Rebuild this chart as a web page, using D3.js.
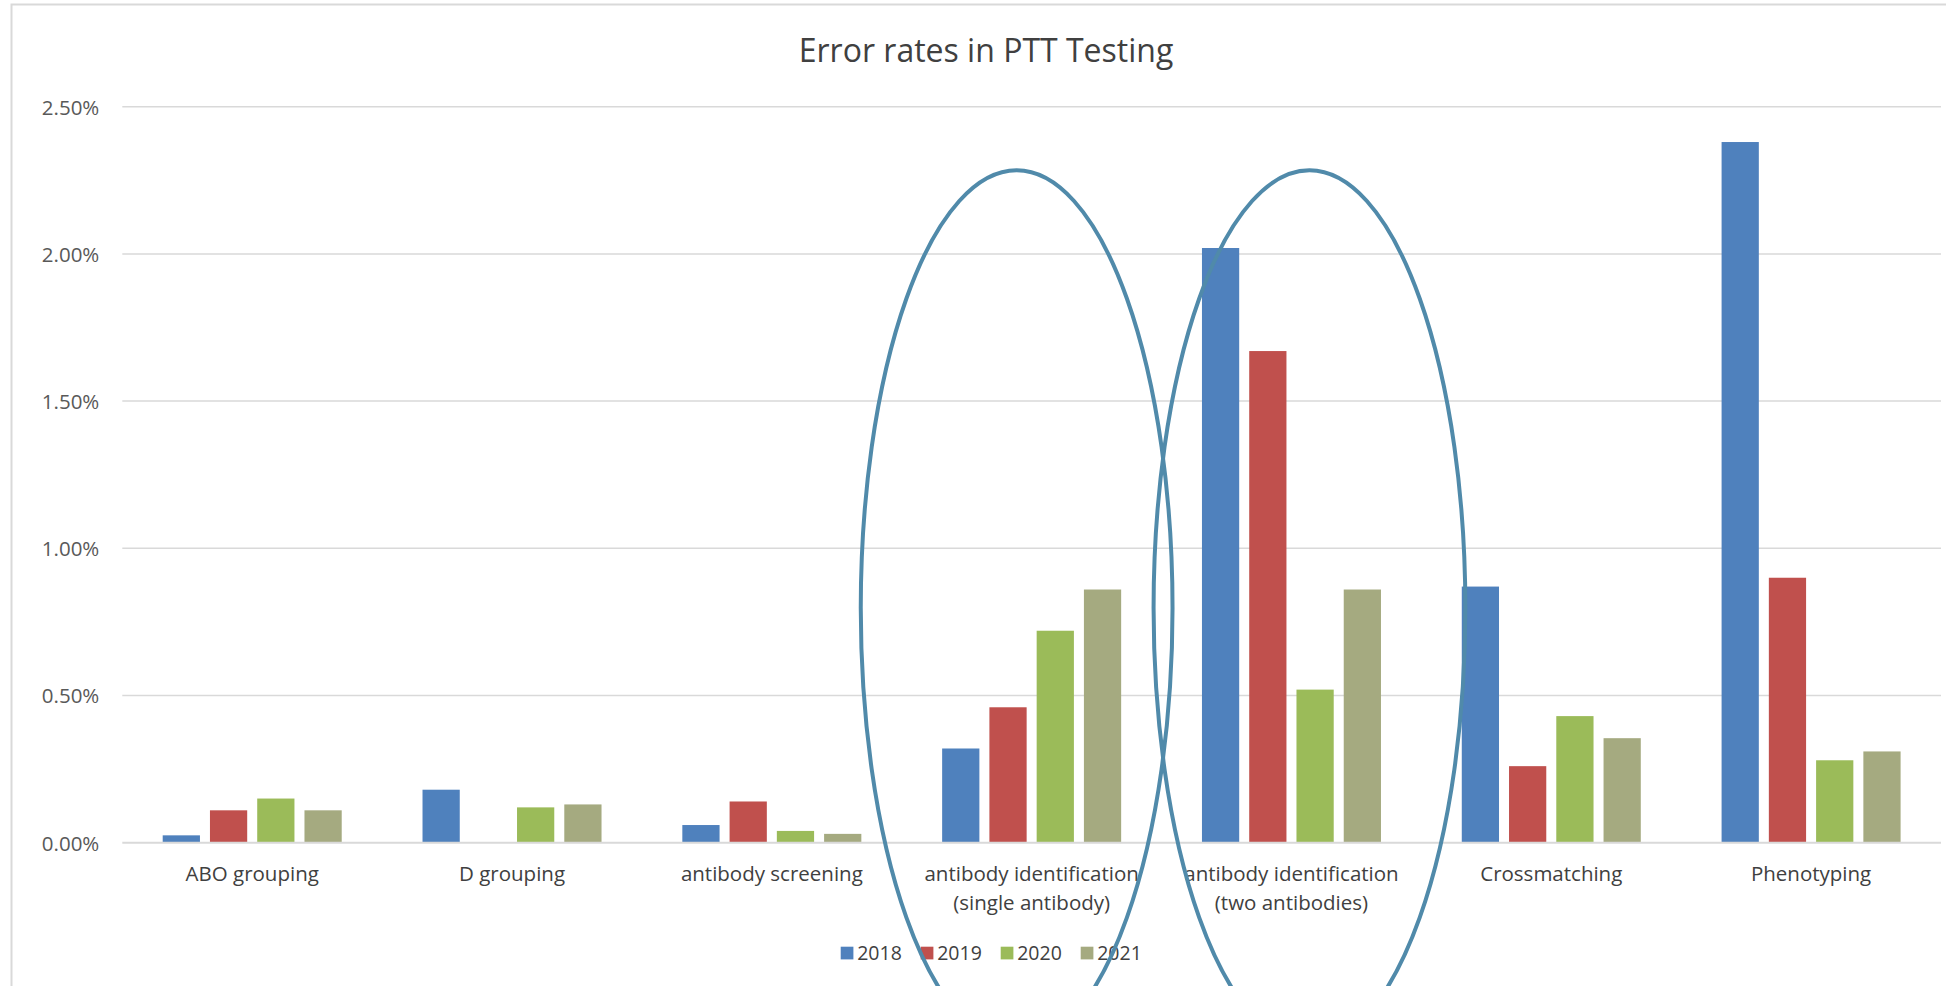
<!DOCTYPE html>
<html>
<head>
<meta charset="utf-8">
<script src="https://cdn.jsdelivr.net/npm/d3@7"></script>
<style>
  html, body { margin: 0; padding: 0; background: #ffffff; }
  svg { display: block; }
  text { font-family: "Open Sans", "Noto Sans", sans-serif; }
</style>
</head>
<body>
<svg id="chart" width="1946" height="986"></svg>
<script>
// ---------- data ----------
const categories = [
  "ABO grouping",
  "D grouping",
  "antibody screening",
  "antibody identification\n(single antibody)",
  "antibody identification\n(two antibodies)",
  "Crossmatching",
  "Phenotyping"
];
const years = ["2018", "2019", "2020", "2021"];
const values2018 = [0.00025, 0.0018, 0.0006, 0.0032, 0.0202, 0.0087, 0.0238];
const values2019 = [0.0011, 0.0, 0.0014, 0.0046, 0.0167, 0.0026, 0.0090];
const values2020 = [0.0015, 0.0012, 0.0004, 0.0072, 0.0052, 0.0043, 0.0028];
const values2021 = [0.0011, 0.0013, 0.0003, 0.0086, 0.0086, 0.00355, 0.0031];
const yTicks = [0, 0.005, 0.01, 0.015, 0.02, 0.025];
const colors = ["#4f81bd", "#c0504d", "#9bbb59", "#a5aa80"];
const title = "Error rates in PTT Testing";
// highlighted categories (ellipse annotations)
const highlights = [
  { category: categories[3], dx: -15 },
  { category: categories[4], dx: 18 }
];

const series = [values2018, values2019, values2020, values2021];

// ---------- layout ----------
const svg = d3.select("#chart");
const plot = { left: 122.3, right: 1941, top: 106.7, bottom: 842.7 };

const x0 = d3.scaleBand()
  .domain(categories)
  .range([plot.left, plot.right])
  .paddingInner(0.311)
  .paddingOuter(0.1555);

const x1 = d3.scaleBand()
  .domain(years)
  .range([0, x0.bandwidth()])
  .paddingInner(0.212)
  .paddingOuter(0);

const y = d3.scaleLinear()
  .domain([0, 0.025])
  .range([plot.bottom, plot.top]);

// chart frame
svg.append("rect")
  .attr("x", 11.5).attr("y", 4.5)
  .attr("width", 2000).attr("height", 1100)
  .attr("fill", "none")
  .attr("stroke", "#d9d9d9")
  .attr("stroke-width", 2);

// title
svg.append("text")
  .attr("x", 986).attr("y", 62)
  .attr("text-anchor", "middle")
  .attr("font-size", 32)
  .attr("fill", "#404040")
  .text(title);

// gridlines
svg.append("g")
  .selectAll("line")
  .data(yTicks.filter(d => d > 0))
  .join("line")
  .attr("x1", plot.left).attr("x2", plot.right)
  .attr("y1", d => y(d)).attr("y2", d => y(d))
  .attr("stroke", "#d9d9d9")
  .attr("stroke-width", 1.5);

// y axis labels
const yAxis = d3.axisLeft(y).tickValues(yTicks).tickFormat(d3.format(".2%")).tickSize(0).tickPadding(23);
const gy = svg.append("g").attr("transform", `translate(${plot.left},0)`).call(yAxis);
gy.select(".domain").remove();
gy.selectAll("text")
  .attr("font-family", "'Open Sans', sans-serif")
  .attr("font-size", 20.5)
  .attr("fill", "#595959")
  .attr("dy", "0.36em");

// bars
const groups = svg.append("g")
  .selectAll("g")
  .data(categories.map((c, i) => ({ c, i })))
  .join("g")
  .attr("transform", d => `translate(${x0(d.c)},0)`);

groups.selectAll("rect")
  .data(d => years.map((yr, j) => ({ yr, j, v: series[j][d.i] })))
  .join("rect")
  .attr("x", d => x1(d.yr))
  .attr("width", x1.bandwidth())
  .attr("y", d => y(d.v))
  .attr("height", d => y(0) - y(d.v))
  .attr("fill", d => colors[d.j]);

// zero axis line
svg.append("line")
  .attr("x1", plot.left).attr("x2", plot.right)
  .attr("y1", y(0)).attr("y2", y(0))
  .attr("stroke", "#d9d9d9")
  .attr("stroke-width", 2);

// category labels
const xAxis = svg.append("g");
categories.forEach(c => {
  const lines = c.split("\n");
  const t = xAxis.append("text")
    .attr("x", x0(c) + x0.bandwidth() / 2)
    .attr("y", 881)
    .attr("text-anchor", "middle")
    .attr("font-size", 20.5)
    .attr("fill", "#404040");
  lines.forEach((ln, k) => {
    t.append("tspan")
      .attr("x", x0(c) + x0.bandwidth() / 2)
      .attr("dy", k === 0 ? 0 : 29)
      .text(ln);
  });
});

// legend
const legendStep = 80;
const legendX = 840.7;
const legend = svg.append("g")
  .selectAll("g")
  .data(years)
  .join("g")
  .attr("transform", (d, i) => `translate(${legendX + i * legendStep}, 946.7)`);
legend.append("rect")
  .attr("width", 12.7).attr("height", 12.7)
  .attr("fill", (d, i) => colors[i]);
legend.append("text")
  .attr("x", 16.5).attr("y", 13.3)
  .attr("font-size", 19.5)
  .attr("fill", "#404040")
  .text(d => d);

// ellipse annotations
svg.append("g")
  .selectAll("ellipse")
  .data(highlights)
  .join("ellipse")
  .attr("cx", d => x0(d.category) + x0.bandwidth() / 2 + d.dx)
  .attr("cy", y(0.00797))
  .attr("rx", x0.step() * 0.6)
  .attr("ry", y(0.00797) - y(0.02284))
  .attr("fill", "none")
  .attr("stroke", "#508aaa")
  .attr("stroke-width", 4);
</script>
</body>
</html>
